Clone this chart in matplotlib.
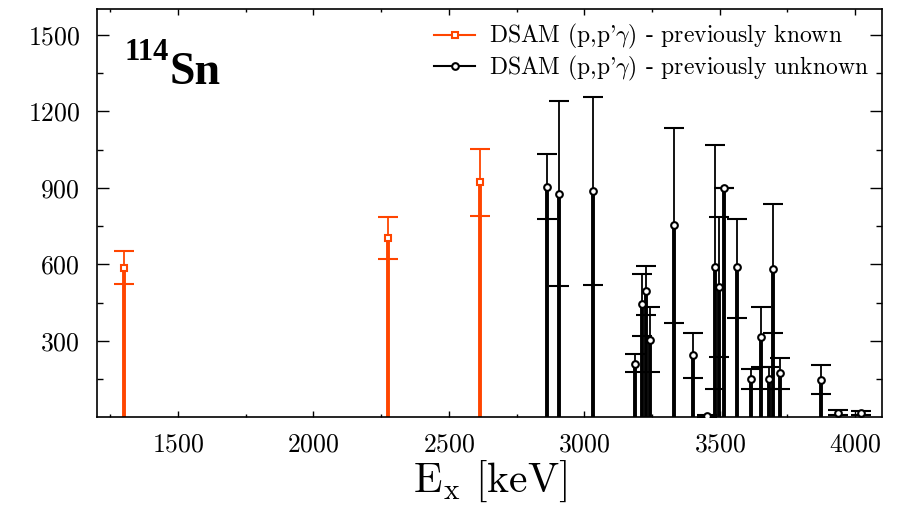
import numpy as np
import matplotlib.pyplot as plt
from matplotlib.lines import Line2D

plt.rcParams['font.family'] = 'serif'
plt.rcParams['font.serif'] = ['cmr10']
plt.rcParams['mathtext.fontset'] = 'cm'
plt.rcParams['axes.formatter.use_mathtext'] = True

ORANGE = '#ff4500'

# levels known before (E_x in keV, value, upper / lower edge of the error bar)
known_ex = [1300, 2277, 2616]
known_val = [587, 702, 922]
known_hi = [654, 787, 1051]
known_lo = [521, 619, 791]

# newly found levels
new_ex = [2862, 2908, 3031, 3187, 3214, 3228, 3244, 3330, 3401, 3453, 3484,
          3499, 3517, 3562, 3614, 3653, 3681, 3696, 3724, 3872, 3936, 4023]
new_val = [905, 876, 886, 211, 443, 496, 305, 753, 244, 6, 590,
           512, 899, 588, 150, 313, 149, 582, 175, 146, 18, 18]
new_hi = [1031, 1239, 1255, 247, 564, 593, 432, 1135, 331, 10, 1067,
          786, 899, 779, 188, 431, 196, 835, 233, 204, 27, 25]
new_lo = [778, 514, 518, 176, 318, 403, 176, 368, 153, 2, 110,
          237, 899, 388, 110, 196, 110, 331, 110, 90, 8, 10]


def draw_levels(ax, ex, val, hi, lo, color, marker, ms):
    ex = np.array(ex)
    val = np.array(val)
    err = [val - np.array(lo), np.array(hi) - val]
    ax.vlines(ex, 0, val, color=color, lw=2.8, zorder=2)
    ax.errorbar(ex, val, yerr=err, fmt='none', ecolor=color, elinewidth=1.3,
                capsize=7, capthick=1.5, zorder=3)
    ax.plot(ex, val, ls='none', marker=marker, ms=ms, mfc='white', mec=color,
            mew=1.5, zorder=4)


fig = plt.figure(figsize=(8.99, 5.2), dpi=100)
ax = fig.add_axes([0.1076, 0.1975, 0.8738, 0.7845])

draw_levels(ax, known_ex, known_val, known_hi, known_lo, ORANGE, 's', 4.5)
draw_levels(ax, new_ex, new_val, new_hi, new_lo, 'black', 'o', 4.8)

ax.set_xlim(1200, 4100)
ax.set_ylim(0, 1600)
ax.set_xticks([1500, 2000, 2500, 3000, 3500, 4000])
ax.set_xticks(np.arange(1250, 4100, 250), minor=True)
ax.set_yticks([300, 600, 900, 1200, 1500])
ax.set_yticks(np.arange(150, 1600, 150), minor=True)

ax.tick_params(axis='both', which='both', direction='in', top=True, right=True,
               labelsize=18.5, width=1.0)
ax.tick_params(axis='x', which='major', length=4, pad=11)
ax.tick_params(axis='x', which='minor', length=2.5)
ax.tick_params(axis='y', which='major', length=8.5, pad=12)
ax.tick_params(axis='y', which='minor', length=4.3)
for s in ax.spines.values():
    s.set_linewidth(1.2)

ax.set_xlabel(r'E$_\mathrm{x}$ [keV]', fontsize=30, labelpad=2)

ax.text(0.035, 0.895, '114', transform=ax.transAxes, fontsize=22,
        fontweight='bold', family='Liberation Serif', va='center')
ax.text(0.093, 0.845, 'Sn', transform=ax.transAxes, fontsize=33,
        fontweight='bold', family='Liberation Serif', va='center')

handles = [
    Line2D([], [], color=ORANGE, lw=1.5, marker='s', ms=4.5, mfc='white',
           mec=ORANGE, mew=1.5),
    Line2D([], [], color='black', lw=1.5, marker='o', ms=4.8, mfc='white',
           mec='black', mew=1.5),
]
labels = [r"DSAM (p,p'$\gamma$) - previously known",
          r"DSAM (p,p'$\gamma$) - previously unknown"]
ax.legend(handles, labels, loc='upper right', bbox_to_anchor=(1.0, 1.0),
          frameon=False, fontsize=17, handlelength=1.75, handletextpad=0.6,
          labelspacing=0.1, borderaxespad=0.15)

fig.savefig('out.png', dpi=100)
